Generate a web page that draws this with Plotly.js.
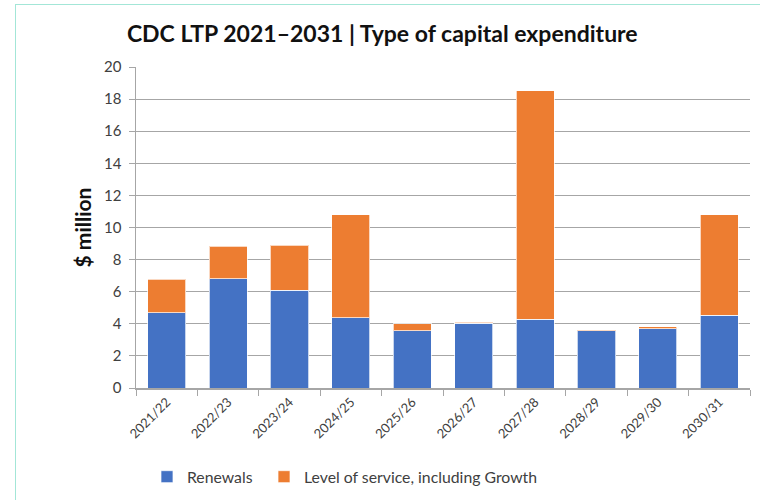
<!DOCTYPE html>
<html>
<head>
<meta charset="utf-8">
<script src="https://cdn.plot.ly/plotly-3.0.1.min.js"></script>
<style>
  html, body { margin: 0; padding: 0; background: #fff; }
  #wrap { position: relative; width: 760px; height: 500px; }
  #chart { position: absolute; left: 0; top: 0; width: 760px; height: 500px; }
  #frame { position: absolute; left: 15px; top: 4px; width: 760px; height: 500px;
           border-left: 1.5px solid #a3e6d7; border-top: 1.5px solid #a3e6d7; pointer-events: none; }
</style>
</head>
<body>
<div id="wrap">
  <div id="chart"></div>
  <div id="frame"></div>
</div>
<script>
const years = ["2021/22","2022/23","2023/24","2024/25","2025/26","2026/27","2027/28","2028/29","2029/30","2030/31"];
const renewals = [4.69, 6.81, 6.1, 4.38, 3.57, 4.02, 4.29, 3.58, 3.69, 4.52];
const levelOfService = [2.1, 2.02, 2.8, 6.42, 0.42, 0.08, 14.23, 0.06, 0.12, 6.27];
const yTicks = [0, 2, 4, 6, 8, 10, 12, 14, 16, 18, 20];

const FONT = "Lato, 'Open Sans', sans-serif";

const traces = [
  { type: "bar", name: "Renewals", x: years, y: renewals, legend: "legend",
    marker: { color: "#4472C4", line: { color: "rgba(255,255,255,0.7)", width: 1 } } },
  { type: "bar", name: "Level of service, including Growth", x: years, y: levelOfService, legend: "legend2",
    marker: { color: "#ED7D31", line: { color: "rgba(255,255,255,0.7)", width: 1 } } }
];

const legendFont = { family: FONT, size: 15.8, color: "#404040" };

const layout = {
  width: 760, height: 500,
  margin: { l: 136, r: 10, t: 67, b: 112, autoexpand: false },
  paper_bgcolor: "rgba(0,0,0,0)", plot_bgcolor: "#fff",
  barmode: "stack", bargap: 0.38,
  font: { family: FONT, color: "#404040", size: 14 },
  title: { text: "<b>CDC LTP 2021–2031 | Type of capital expenditure</b>",
           font: { family: FONT, size: 23, color: "#111" },
           x: 0.503, xanchor: "center", y: 0.932, yanchor: "middle" },
  xaxis: { type: "category", showline: true, linecolor: "#a6a6a6", linewidth: 1.5,
           ticks: "outside", tickson: "boundaries", ticklen: 6, tickcolor: "#a6a6a6",
           tickangle: -45, automargin: false,
           tickfont: { family: FONT, size: 13, color: "#404040" },
           showgrid: false },
  yaxis: { range: [0, 20], tickvals: yTicks, showline: true, linecolor: "#a6a6a6", linewidth: 1.5,
           ticks: "outside", ticklen: 6, tickcolor: "#a6a6a6", ticklabelstandoff: 4,
           gridcolor: "#a6a6a6", gridwidth: 1.2, zeroline: false, automargin: false,
           tickfont: { family: FONT, size: 15, color: "#404040" },
           title: { text: "<b>$ million</b>", font: { family: FONT, size: 21, color: "#111" }, standoff: 6 } },
  legend: { orientation: "h", x: 0.0179, xanchor: "left", y: -0.277, yanchor: "middle",
            font: legendFont, bgcolor: "rgba(0,0,0,0)" },
  legend2: { orientation: "h", x: 0.2085, xanchor: "left", y: -0.277, yanchor: "middle",
            font: legendFont, bgcolor: "rgba(0,0,0,0)" },
  showlegend: true
};

Plotly.newPlot("chart", traces, layout, { displayModeBar: false, staticPlot: true });
</script>
</body>
</html>
